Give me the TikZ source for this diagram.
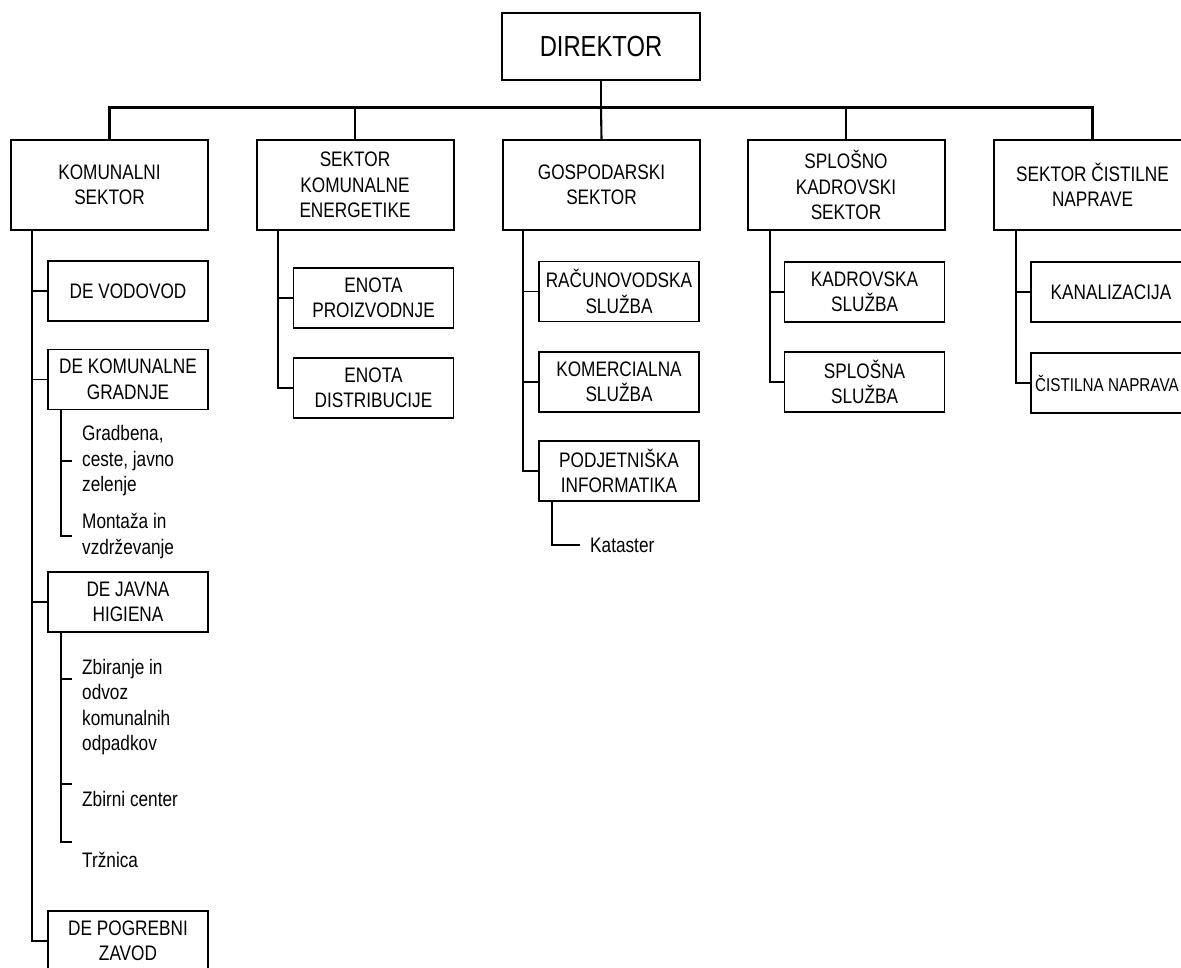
\documentclass[tikz,border=0pt]{standalone}
\usepackage{fontspec}
\setmainfont{Liberation Sans}[FakeStretch=0.82]
\begin{document}
\begin{tikzpicture}[x=1pt,y=-1pt,
  every node/.style={font=\fontsize{21}{25.5}\selectfont, align=center, inner sep=0pt},
  topbox/.style={draw, line width=2pt, minimum width=198pt, minimum height=67pt, font=\fontsize{29}{34}\selectfont},
  secbox/.style={draw, line width=2pt, minimum width=197pt, minimum height=90pt},
  subbox/.style={draw, line width=1.1pt, minimum width=160pt, minimum height=60pt},
  leaf/.style={anchor=west, align=left},
  stem/.style={line width=2.1pt},
  tick/.style={line width=1.1pt}]
\useasboundingbox (0,0) rectangle (1181,967);
\clip (0,0) rectangle (1181,967);

% Director
\node[topbox] (dir) at (601,46.5) {DIREKTOR};

% Sectors
\node[secbox] (kom) at (109.5,185) {KOMUNALNI\\SEKTOR};
\node[secbox] (ene) at (355,185) {SEKTOR\\KOMUNALNE\\ENERGETIKE};
\node[secbox] (gos) at (601.5,185) {GOSPODARSKI\\SEKTOR};
\node[secbox] (spl) at (846,185) {SPLOŠNO\\KADROVSKI\\SEKTOR};
\node[secbox] (cis) at (1092.5,185) {SEKTOR ČISTILNE\\NAPRAVE};

% Bus
\coordinate (bus) at (601,107.5);
\draw[stem] (dir.south) -- (bus);
\draw[stem] (kom.north) |- (bus) -| (cis.north);
\draw[stem] (bus) -- (gos.north);
\draw[stem] (ene.north) -- (ene.north |- bus);
\draw[stem] (spl.north) -- (spl.north |- bus);

% Komunalni children
\node[subbox] (vod) at (128,291) {DE VODOVOD};
\node[subbox] (gra) at (128,379.5) {DE KOMUNALNE\\GRADNJE};
\node[subbox] (hig) at (128,602) {DE JAVNA\\HIGIENA};
\node[subbox] (pog) at (128,941) {DE POGREBNI\\ZAVOD};
\coordinate (ks) at (32,230);
\draw[stem] (ks) |- (pog.west);
\foreach \n in {vod,gra,hig} \draw[tick] (ks |- \n.west) -- (\n.west);

% Gradnje leaves
\node[leaf] (g1) at (82,461) {Gradbena,\\ceste, javno\\zelenje};
\node[leaf] (g2) at (82,536) {Montaža in\\vzdrževanje};
\coordinate (gs) at (61,410);
\draw[tick] (gs) |- (72,536);
\draw[tick] (gs |- g1.west) -- (72,461);

% Higiena leaves
\node[leaf, anchor=north west] (h1) at (82,659) {Zbiranje in\\odvoz\\komunalnih\\odpadkov};
\node[leaf] (h2) at (82,799) {Zbirni center};
\node[leaf] (h3) at (82,860) {Tržnica};
\coordinate (hs) at (61,632);
\coordinate (h1t) at (72,679);
\coordinate (h2t) at (72,784);
\coordinate (h3t) at (72,842);
\draw[tick] (hs) |- (h3t);
\draw[tick] (hs |- h1t) -- (h1t);
\draw[tick] (hs |- h2t) -- (h2t);

% Energetike children
\node[subbox] (pro) at (373.5,298) {ENOTA\\PROIZVODNJE};
\node[subbox] (dis) at (373.5,388) {ENOTA\\DISTRIBUCIJE};
\coordinate (es) at (278,230);
\draw[stem] (es) |- (dis.west);
\draw[tick] (es |- pro.west) -- (pro.west);

% Gospodarski children
\node[subbox] (rac) at (619,291.5) {RAČUNOVODSKA\\SLUŽBA};
\node[subbox] (kmr) at (619,382) {KOMERCIALNA\\SLUŽBA};
\node[subbox] (pod) at (619,471) {PODJETNIŠKA\\INFORMATIKA};
\coordinate (gos0) at (523,230);
\draw[stem] (gos0) |- (pod.west);
\draw[tick] (gos0 |- rac.west) -- (rac.west);
\draw[tick] (gos0 |- kmr.west) -- (kmr.west);
\node[leaf] (kat) at (590,545) {Kataster};
\coordinate (ps) at (552,501);
\draw[tick] (ps) |- (580,545);

% Splosno children
\node[subbox] (kad) at (864.5,292) {KADROVSKA\\SLUŽBA};
\node[subbox] (sls) at (864.5,382) {SPLOŠNA\\SLUŽBA};
\coordinate (ss) at (770,230);
\draw[stem] (ss) |- (sls.west);
\draw[tick] (ss |- kad.west) -- (kad.west);

% Cistilne children
\node[subbox] (kan) at (1111,292) {KANALIZACIJA};
\node[subbox] (cnp) at (1111,383) {};
\node[anchor=west, font=\fontsize{18.6}{22}\selectfont] (cnpt) at (1035,383) {ČISTILNA NAPRAVA};
\coordinate (cs) at (1016,230);
\draw[stem] (cs) |- (cnp.west);
\draw[tick] (cs |- kan.west) -- (kan.west);
\end{tikzpicture}
\end{document}
